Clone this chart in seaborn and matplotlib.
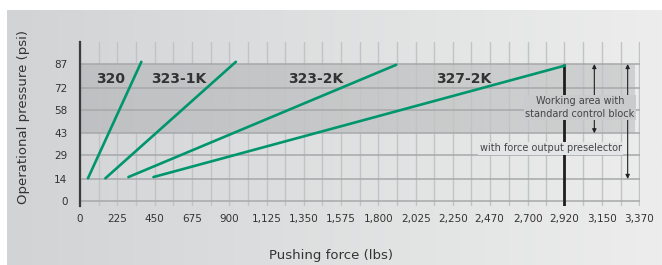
import numpy as np
import pandas as pd
import matplotlib
matplotlib.use('Agg')
import matplotlib.pyplot as plt
import seaborn as sns

# cylinder lines (lbs / psi)
models = ['320', '323-1K', '323-2K', '327-2K']
force_start = [48, 153, 292, 443]
force_end = [370, 940, 1907, 2925]
psi_start = [14.4, 14.4, 15.2, 15.2]
psi_end = [88.4, 88.4, 86.5, 86.0]
label_force = [185, 594, 1419, 2315]
label_psi = 77.5

x_ticks = [0, 225, 450, 675, 900, 1125, 1350, 1575, 1800, 2025, 2250,
           2470, 2700, 2920, 3150, 3370]
y_ticks = [0, 14, 29, 43, 58, 72, 87]
band_low, band_high = 43, 87
max_force = 2920

df = pd.DataFrame({'model': models * 2,
                   'force': force_start + force_end,
                   'psi': psi_start + psi_end})

sns.set_theme(style='white')
plt.rcParams['font.family'] = ['Liberation Sans Narrow', 'DejaVu Sans']

fig = plt.figure(figsize=(6.62, 2.65), dpi=100)
fig.patch.set_facecolor('white')

# gradient panel behind everything
bg = fig.add_axes([7 / 662, 0, 655 / 662, 255.5 / 265], zorder=-5)
grad = np.linspace(0, 1, 256)[None, :]
cmap = matplotlib.colors.LinearSegmentedColormap.from_list('bg', ['#d2d3d5', '#ecedec'])
bg.imshow(grad, aspect='auto', cmap=cmap, extent=[0, 1, 0, 1])
bg.axis('off')

ax = fig.add_axes([80 / 662, 59.3 / 265, 559.6 / 662, 163.7 / 265])
ax.set_facecolor('none')
ax.set_xlim(0, 3375)
ax.set_ylim(-3, 101)

# working area band
ax.fill_between([0, 3350], band_low, band_high, color='#7f8184', alpha=0.25,
                lw=0, zorder=0.5)

ax.set_xticks(x_ticks)
ax.set_xticklabels([f'{v:,}' for v in x_ticks])
mids = [(a + b) / 2 for a, b in zip(x_ticks[:-1], x_ticks[1:])]
ax.set_xticks(mids, minor=True)
ax.set_yticks(y_ticks)
ax.set_yticklabels([str(v) for v in y_ticks])
ax.grid(axis='x', which='both', color='#c2c3c5', lw=1.0, zorder=1)
ax.grid(axis='y', which='major', color='#a7a8aa', lw=1.1, zorder=1)
ax.set_axisbelow(True)
ax.tick_params(axis='both', which='both', length=0, labelsize=7.5, colors='#333333')
ax.tick_params(axis='x', pad=6)
ax.tick_params(axis='y', pad=9)

for s in ['top', 'right', 'bottom']:
    ax.spines[s].set_visible(False)
ax.spines['left'].set_color('#3c3c3c')
ax.spines['left'].set_linewidth(1.6)

sns.lineplot(data=df, x='force', y='psi', units='model', estimator=None,
             color='#00966d', lw=1.9, ax=ax, legend=False, sort=False, zorder=4)

for m, fx in zip(models, label_force):
    ax.text(fx, label_psi, m, ha='center', va='center', fontsize=10,
            fontweight='bold', color='#333333', zorder=5)

# max force marker and range arrows
ax.plot([max_force, max_force], [band_high, -3], color='#1e1e1e', lw=2, zorder=3,
        solid_capstyle='butt')
arrow = dict(arrowstyle='<|-|>', lw=0.8, color='#222222', mutation_scale=6,
             shrinkA=0, shrinkB=0)
ax.annotate('', xy=(3102, band_high), xytext=(3102, band_low), arrowprops=arrow, zorder=3)
ax.annotate('', xy=(3303, band_high), xytext=(3303, 14), arrowprops=arrow, zorder=3)

ax.text(3016, 59.4, 'Working area with\nstandard control block', ha='center',
        va='center', fontsize=7, color='#444444', linespacing=1.35, zorder=6,
        bbox=dict(boxstyle='square,pad=0.15', fc='#cacbcd', ec='none'))
ax.text(2838, 33.5, 'with force output preselector', ha='center', va='center',
        fontsize=7, color='#444444', zorder=6,
        bbox=dict(boxstyle='square,pad=0.15', fc='#e4e5e6', ec='none'))

ax.set_xlabel('Pushing force (lbs)', fontsize=9.5, color='#333333')
ax.set_ylabel('Operational pressure (psi)', fontsize=9.5, color='#333333')
ax.xaxis.set_label_coords(0.448, -0.265)
ax.yaxis.set_label_coords(-0.089, 0.542)

fig.savefig('out.png', dpi=100)
